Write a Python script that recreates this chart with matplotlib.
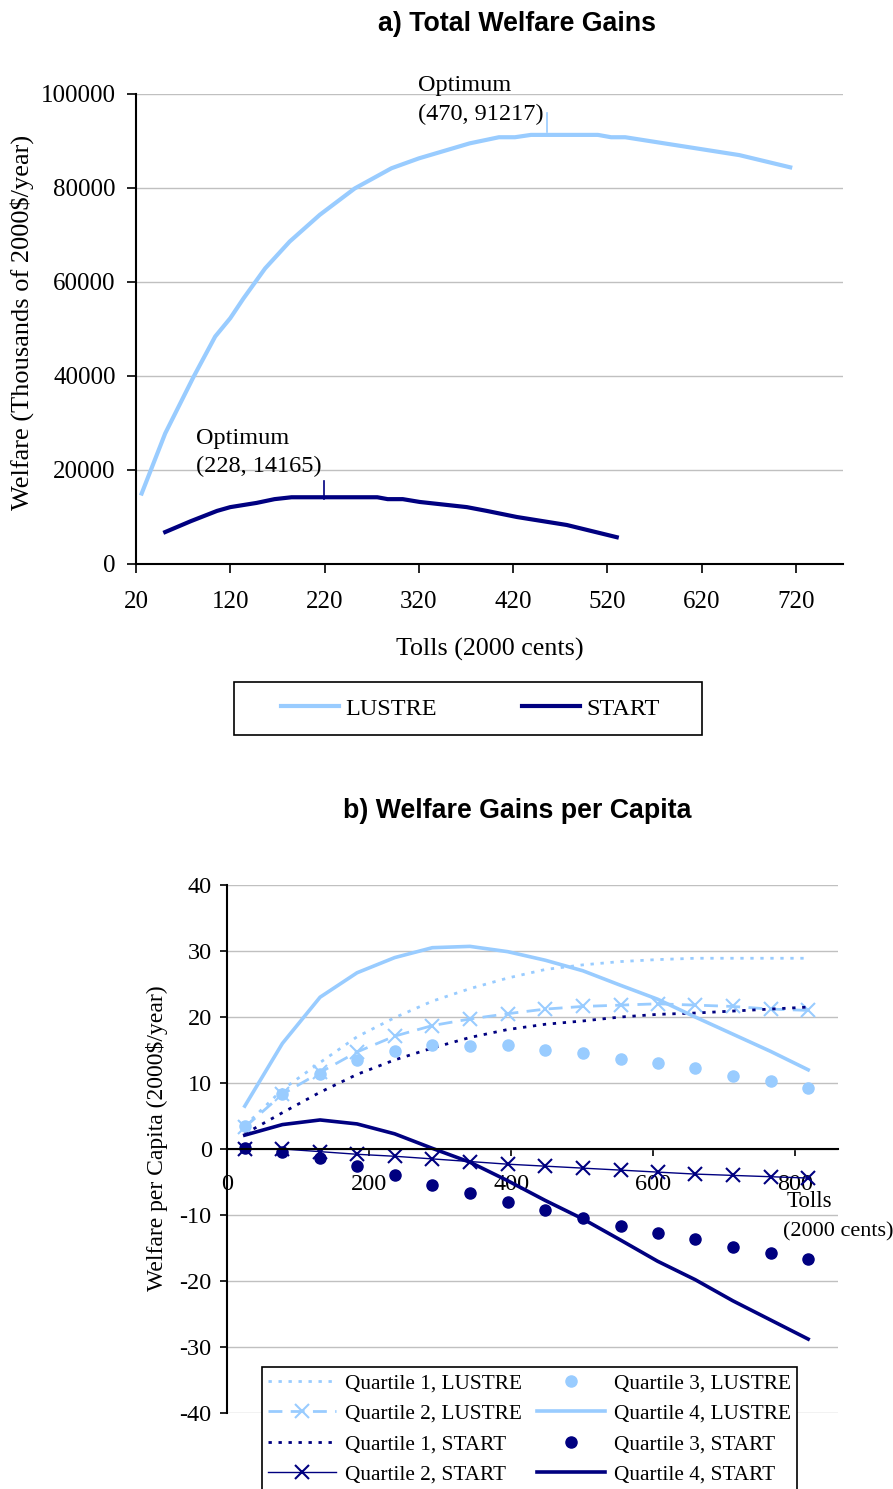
import matplotlib
matplotlib.use('Agg')
import matplotlib.pyplot as plt
from matplotlib.patches import Rectangle

plt.rcParams['font.family'] = ['Liberation Serif', 'DejaVu Serif']
plt.rcParams['axes.unicode_minus'] = False

LIGHT = '#99ccff'
NAVY = '#000080'
GRID = '#c0c0c0'

# a) Total welfare gains (tolls in 2000 cents, welfare in thousands of 2000$/year)
lustre_toll = [26, 51, 81, 104, 120, 134, 157, 183, 215, 252, 291, 320, 374,
               405, 422, 439, 510, 524, 539, 660, 714]
lustre_welfare = [15000, 27800, 39800, 48400, 52300, 56500, 62900, 68600, 74300,
                  79900, 84200, 86300, 89500, 90800, 90800, 91300, 91300, 90800,
                  90800, 87000, 84400]
start_toll = [51, 78, 106, 120, 148, 167, 185, 276, 287, 303, 321, 371, 392, 424,
              477, 530]
start_welfare = [6800, 9100, 11300, 12100, 13000, 13800, 14200, 14200, 13800, 13800,
                 13200, 12100, 11300, 10000, 8300, 5700]

# optimum markers: position of the small tick and its label
lustre_opt_x, lustre_opt_y = 456, [92000, 96000]
start_opt_x, start_opt_y = 219, [13900, 17700]
lustre_opt_label = 'Optimum\n(470, 91217)'
start_opt_label = 'Optimum\n(228, 14165)'

top_xticks = [20, 120, 220, 320, 420, 520, 620, 720]
top_yticks = [0, 20000, 40000, 60000, 80000, 100000]

# b) Welfare gains per capita (2000$/year)
toll_pc = [25, 78, 131, 183, 236, 289, 342, 395, 448, 501, 554, 606, 659, 712, 765, 818]
q1_lustre = [3.5, 9.0, 13.1, 17.0, 19.9, 22.4, 24.3, 25.9, 27.2, 27.9, 28.4, 28.7,
             28.9, 28.9, 28.9, 28.9]
q2_lustre = [3.3, 8.3, 11.6, 14.7, 17.1, 18.7, 19.7, 20.5, 21.2, 21.6, 21.8, 22.0,
             21.8, 21.6, 21.2, 21.0]
q3_lustre = [3.5, 8.3, 11.4, 13.5, 14.9, 15.7, 15.6, 15.7, 15.0, 14.5, 13.7, 13.0,
             12.2, 11.1, 10.3, 9.3]
q4_lustre = [6.5, 16.0, 23.0, 26.7, 29.0, 30.5, 30.7, 29.9, 28.6, 27.0, 24.8, 22.7,
             20.0, 17.4, 14.8, 12.0]
q1_start = [2.3, 5.5, 8.6, 11.3, 13.5, 15.3, 16.9, 18.1, 18.9, 19.4, 20.0, 20.4,
            20.6, 20.9, 21.2, 21.5]
q2_start = [0.0, 0.0, -0.4, -0.8, -1.1, -1.5, -1.9, -2.3, -2.6, -2.9, -3.2, -3.5,
            -3.8, -4.0, -4.2, -4.4]
q3_start = [0.1, -0.5, -1.4, -2.5, -4.0, -5.4, -6.7, -8.1, -9.3, -10.5, -11.6, -12.7,
            -13.7, -14.8, -15.7, -16.7]
q4_start = [2.1, 3.7, 4.4, 3.8, 2.3, 0.1, -2.0, -4.8, -7.8, -10.6, -13.8, -17.0,
            -19.8, -23.0, -25.9, -28.8]

bot_xticks = [0, 200, 400, 600, 800]
bot_yticks = [-40, -30, -20, -10, 0, 10, 20, 30, 40]

W, H = 893, 1489
fig = plt.figure(figsize=(W / 100, H / 100), dpi=100)


def px_axes(left, top, right, bottom):
    return fig.add_axes([left / W, 1 - bottom / H, (right - left) / W, (bottom - top) / H])


# ---------------- a) ----------------
ax1 = px_axes(136, 94, 843, 564)
ax1.plot(lustre_toll, lustre_welfare, color=LIGHT, lw=3, label='LUSTRE', solid_joinstyle='round')
ax1.plot(start_toll, start_welfare, color=NAVY, lw=3, label='START', solid_joinstyle='round')
ax1.plot([lustre_opt_x, lustre_opt_x], lustre_opt_y, color=LIGHT, lw=1.2)
ax1.plot([start_opt_x, start_opt_x], start_opt_y, color=NAVY, lw=1.2)
ax1.text(319, 98700, lustre_opt_label, fontsize=17.5, ha='left', va='center',
         linespacing=1.45, clip_on=False)
ax1.text(84, 23700, start_opt_label, fontsize=17.5, ha='left', va='center',
         linespacing=1.45)

ax1.set_xlim(20, 770)
ax1.set_ylim(0, 100000)
ax1.set_xticks(top_xticks)
ax1.set_yticks(top_yticks)
ax1.tick_params(axis='both', direction='out', length=6.5, width=1.2, labelsize=18)
ax1.tick_params(axis='x', pad=13)
ax1.tick_params(axis='y', pad=8)
ax1.yaxis.grid(True, color=GRID, lw=1)
ax1.set_axisbelow(True)
for s in ['top', 'right']:
    ax1.spines[s].set_visible(False)
for s in ['left', 'bottom']:
    ax1.spines[s].set_linewidth(1.5)
ax1.set_xlabel('Tolls (2000 cents)', fontsize=18.7, labelpad=18)
ax1.set_ylabel('Welfare (Thousands of 2000$/year)', fontsize=19)
ax1.yaxis.set_label_coords(-0.144, 0.515)

# legend box of chart a) drawn behind the (frameless) legend
fig.add_artist(Rectangle((234 / W, 1 - 735 / H), 468 / W, 53 / H,
                         transform=fig.transFigure, facecolor='white',
                         edgecolor='black', lw=1.2, zorder=-1))
leg1 = ax1.legend(loc='center', bbox_to_anchor=(470 / W, 1 - 708.5 / H),
                  bbox_transform=fig.transFigure, ncol=2, fontsize=17.5,
                  handlelength=2.4, handletextpad=0.25, columnspacing=3.5,
                  frameon=False)

fig.text(517 / W, 1 - 24 / H, 'a) Total Welfare Gains', fontsize=19.3,
         fontweight='bold', family='Liberation Sans', ha='center', va='center')

# ---------------- b) ----------------
ax2 = px_axes(227, 885, 838, 1413)
ax2.plot(toll_pc, q1_lustre, color=LIGHT, lw=2, linestyle=(0, (1.2, 2.4)),
         label='Quartile 1, LUSTRE')
ax2.plot(toll_pc, q2_lustre, color=LIGHT, lw=2, linestyle=(0, (5, 3)), marker='x',
         markersize=10, markeredgewidth=1.5, label='Quartile 2, LUSTRE')
ax2.plot(toll_pc, q1_start, color=NAVY, lw=2, linestyle=(0, (1.2, 2.4)),
         label='Quartile 1, START')
ax2.plot(toll_pc, q2_start, color=NAVY, lw=1, marker='x', markersize=10,
         markeredgewidth=1.5, label='Quartile 2, START')
ax2.plot(toll_pc, q3_lustre, color=LIGHT, linestyle='none', marker='o', markersize=8,
         label='Quartile 3, LUSTRE')
ax2.plot(toll_pc, q4_lustre, color=LIGHT, lw=2.6, label='Quartile 4, LUSTRE')
ax2.plot(toll_pc, q3_start, color=NAVY, linestyle='none', marker='o', markersize=8,
         label='Quartile 3, START')
ax2.plot(toll_pc, q4_start, color=NAVY, lw=2.6, label='Quartile 4, START')

ax2.set_xlim(0, 860)
ax2.set_ylim(-40, 40)
ax2.set_xticks(bot_xticks)
ax2.set_yticks(bot_yticks)
ax2.spines['bottom'].set_position(('data', 0))
for s in ['top', 'right']:
    ax2.spines[s].set_visible(False)
for s in ['left', 'bottom']:
    ax2.spines[s].set_linewidth(1.5)
ax2.tick_params(axis='both', direction='out', length=5, width=1.2, labelsize=17.5)
ax2.tick_params(axis='x', pad=13)
ax2.tick_params(axis='y', pad=6)
ax2.yaxis.grid(True, color=GRID, lw=1)
ax2.set_axisbelow(True)
ax2.set_ylabel('Welfare per Capita (2000$/year)', fontsize=17)
ax2.yaxis.set_label_coords(-0.097, 0.52)
ax2.text(788, -8.0, 'Tolls', fontsize=16.5, ha='left', va='center')
ax2.text(782, -12.6, '(2000 cents)', fontsize=16, ha='left', va='center', clip_on=False)

leg2 = ax2.legend(loc='upper left', bbox_to_anchor=(262 / W, 1 - 1367 / H),
                  bbox_transform=fig.transFigure, ncol=2, fontsize=15.3,
                  handlelength=3.2, handletextpad=0.42, columnspacing=0.7,
                  labelspacing=0.5, fancybox=False, edgecolor='black',
                  framealpha=1, borderpad=0.3, borderaxespad=0)
leg2.get_frame().set_linewidth(1.2)

fig.text(517 / W, 1 - 811 / H, 'b) Welfare Gains per Capita', fontsize=19.3,
         fontweight='bold', family='Liberation Sans', ha='center', va='center')

fig.savefig('out.png', dpi=100)
